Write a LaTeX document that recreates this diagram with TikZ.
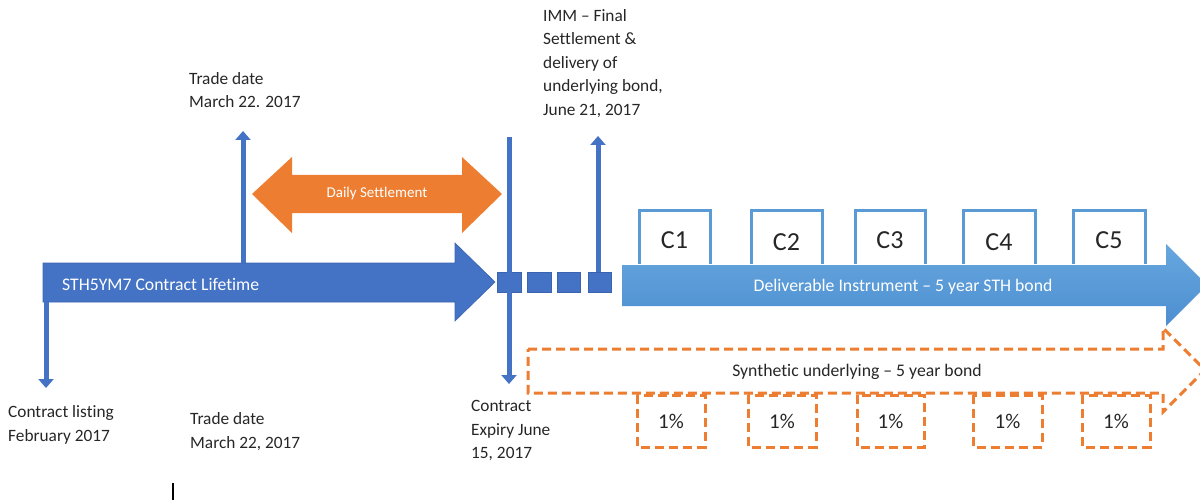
\documentclass[tikz,border=0pt]{standalone}
\usepackage{fontspec}
\setmainfont[Ligatures={NoCommon,TeX}]{Carlito}
\usetikzlibrary{arrows.meta}
\definecolor{dblue}{HTML}{4472C4}
\definecolor{dblueedge}{HTML}{3A64B0}
\definecolor{lblue}{HTML}{5B9BD5}
\definecolor{lbluetop}{HTML}{67A7DF}
\definecolor{lbluebot}{HTML}{4C8ED0}
\definecolor{orng}{HTML}{ED7D31}
\definecolor{txt}{HTML}{262626}
\begin{document}
\begin{tikzpicture}[x=1pt,y=-1pt,
  lbl/.style={text=txt,font=\fontsize{17.3}{23.5}\selectfont,align=left,inner sep=0pt,anchor=north west},
  intext/.style={text=white,inner sep=0pt},
  vline/.style={draw=dblue,line width=5pt},
  varrow/.style={vline,-{Triangle[width=15pt,length=9pt]}},
  sq/.style={fill=dblue,draw=dblueedge,line width=0.8pt},
  cbox/.style={draw=lblue,fill=white,line width=3pt},
  ctext/.style={text=txt,font=\fontsize{26}{30}\selectfont,inner sep=0pt},
  dashorange/.style={draw=orng,line width=3pt,dash pattern=on 9pt off 5pt},
  ptext/.style={text=txt,font=\fontsize{21}{25}\selectfont,inner sep=0pt}]
\useasboundingbox (0,0) rectangle (1200,500);

% ---- blue contract lifetime arrow
\fill[dblue,draw=dblueedge,line width=0.6pt] (43,263) -- (455,263) -- (455,243) -- (495,282) -- (455,321) -- (455,302) -- (43,302) -- cycle;
\node[intext,anchor=west,font=\fontsize{17.7}{20}\selectfont] (life) at (62,284) {STH5YM7 Contract Lifetime};

% ---- orange daily settlement double arrow
\fill[orng] (252,194) -- (292,157) -- (292,175) -- (462,175) -- (462,157) -- (502,194) -- (462,233) -- (462,213) -- (292,213) -- (292,233) -- cycle;
\node[intext,font=\fontsize{15}{18}\selectfont] (daily) at (377,194) {Daily Settlement};

% ---- light blue deliverable arrow
\shade[top color=lbluetop,bottom color=lbluebot] (622,265) -- (1166,265) -- (1166,244) -- (1207,285) -- (1166,326) -- (1166,306) -- (622,306) -- cycle;
\node[intext,font=\fontsize{17.7}{20}\selectfont] (deliv) at (903,287) {Deliverable Instrument – 5 year STH bond};

% ---- coupon boxes
\draw[cbox] (639,264) -- (639,210) -- (710,210) -- (710,264);
\draw[cbox] (751,264) -- (751,210) -- (822,210) -- (822,264);
\draw[cbox] (855,264) -- (855,210) -- (925,210) -- (925,264);
\draw[cbox] (963,264) -- (963,210) -- (1035,210) -- (1035,264);
\draw[cbox] (1073,264) -- (1073,210) -- (1145,210) -- (1145,264);
\node[ctext] (c1) at (674.5,240.5) {C1};
\node[ctext] (c2) at (786.5,242.5) {C2};
\node[ctext] (c3) at (890,240.5) {C3};
\node[ctext] (c4) at (999,242) {C4};
\node[ctext] (c5) at (1109,240.5) {C5};

% ---- dashed synthetic arrow
\draw[dashorange] (528,349) -- (1163,349) -- (1163,328) -- (1205,370) -- (1163,412) -- (1163,393) -- (528,393) -- cycle;
\node[text=txt,inner sep=0pt,font=\fontsize{17.7}{20}\selectfont] (synth) at (857,372) {Synthetic underlying – 5 year bond};

% ---- 1% boxes
\draw[dashorange] (637,395) rectangle (705,447);
\draw[dashorange] (748,395) rectangle (816,447);
\draw[dashorange] (857,395) rectangle (924,447);
\draw[dashorange] (973,395) rectangle (1042,447);
\draw[dashorange] (1082,395) rectangle (1150,447);
\node[ptext] (p1) at (671,421) {1\%};
\node[ptext] (p2) at (782,421) {1\%};
\node[ptext] (p3) at (890.5,421) {1\%};
\node[ptext] (p4) at (1007.5,421) {1\%};
\node[ptext] (p5) at (1116,421) {1\%};

% ---- small squares
\node[sq,minimum width=24pt,minimum height=20pt,inner sep=0pt] (s1) at (509,282) {};
\node[sq,minimum width=24pt,minimum height=20pt,inner sep=0pt] (s2) at (539,282) {};
\node[sq,minimum width=23pt,minimum height=20pt,inner sep=0pt] (s3) at (568.5,282) {};
\node[sq,minimum width=23pt,minimum height=20pt,inner sep=0pt] (s4) at (599.5,282) {};

% ---- connector end points
\coordinate (listBase) at (46,302);
\coordinate (listTip) at (46,388);
\coordinate (tradeBase) at (243,263);
\coordinate (tradeTip) at (243,131);
\coordinate (expTop) at (509,137);
\coordinate (expTip) at (509,384);
\coordinate (immTip) at (598,136);

% ---- vertical arrows
\draw[varrow] (listBase) -- (listTip);
\draw[varrow] (tradeBase) -- (tradeTip);
\draw[varrow] (expTop) -- (expTip);
\draw[varrow] (s4.north -| immTip) -- (immTip);

% ---- labels
\node[lbl] (tradeA) at (189,72) {Trade date\\March 22. 2017};
\node[lbl] (imm) at (543,9) {IMM – Final\\Settlement \&\\delivery of\\underlying bond,\\June 21, 2017};
\node[lbl] (listing) at (8,405.5) {Contract listing\\February 2017};
\node[lbl] (tradeB) at (190,412.5) {Trade date\\March 22, 2017};
\node[lbl] (expiry) at (471,400.5) {Contract\\Expiry June\\15, 2017};

% ---- stray mark
\draw[black,line width=1.5pt] (173,483) -- (173,500);
\end{tikzpicture}
\end{document}
